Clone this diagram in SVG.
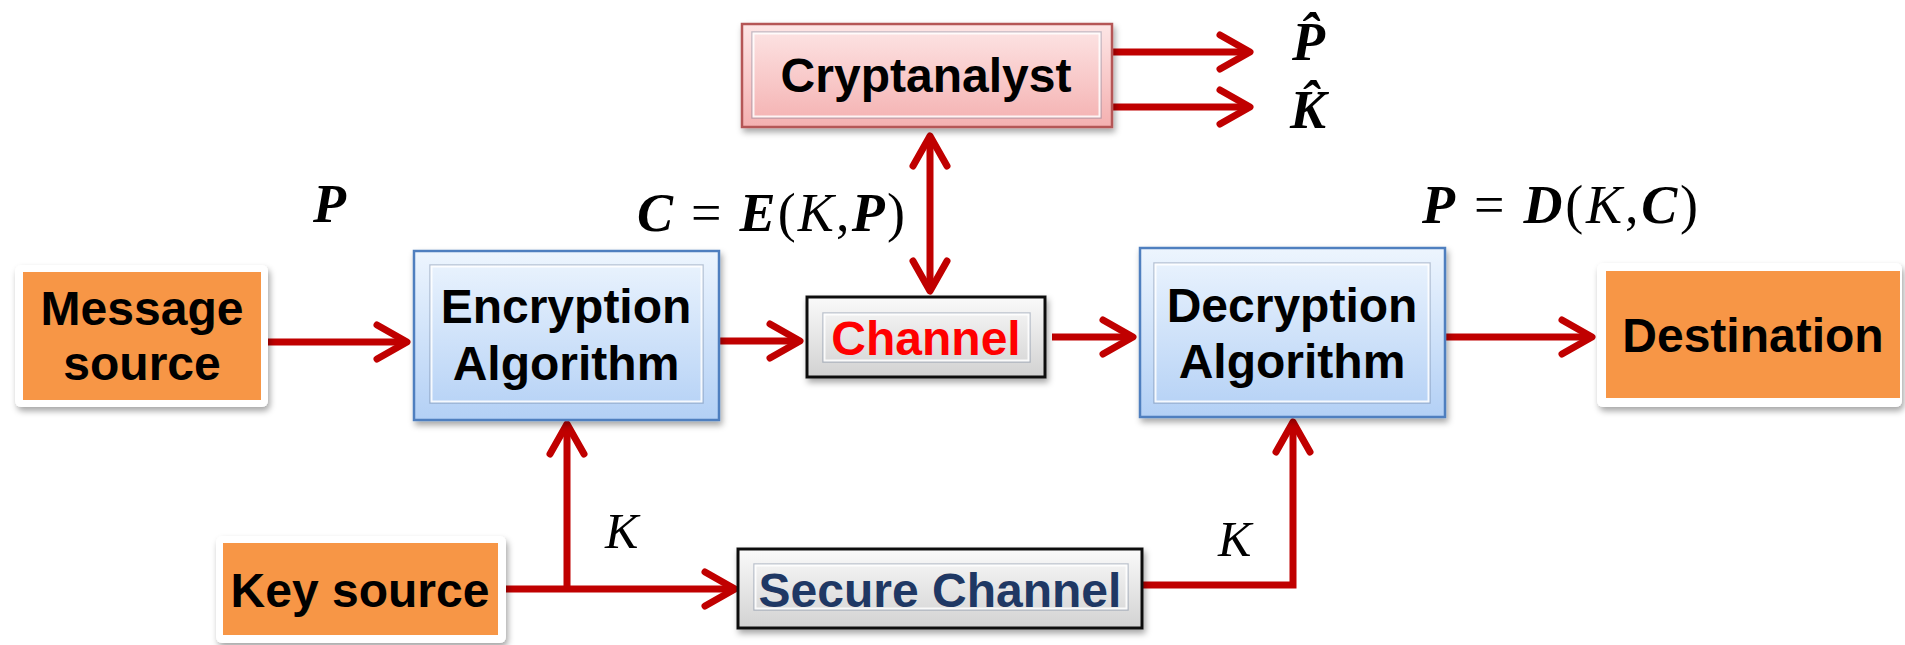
<svg xmlns="http://www.w3.org/2000/svg" width="1905" height="645" viewBox="0 0 1905 645">
<defs>
  <linearGradient id="gBlue" x1="0" y1="0" x2="0" y2="1">
    <stop offset="0" stop-color="#EDF5FE"/>
    <stop offset="1" stop-color="#B3D0F5"/>
  </linearGradient>
  <linearGradient id="gPink" x1="0" y1="0" x2="0" y2="1">
    <stop offset="0" stop-color="#FDE6E6"/>
    <stop offset="1" stop-color="#F4B0B0"/>
  </linearGradient>
  <linearGradient id="gGray" x1="0" y1="0" x2="0" y2="1">
    <stop offset="0" stop-color="#FAFAFA"/>
    <stop offset="1" stop-color="#D2D2D2"/>
  </linearGradient>
  <filter id="shadow" x="-10%" y="-10%" width="125%" height="135%">
    <feDropShadow dx="2" dy="4" stdDeviation="3" flood-color="#000" flood-opacity="0.35"/>
  </filter>
  <marker id="head" markerUnits="userSpaceOnUse" viewBox="-36 -22 40 44" markerWidth="40" markerHeight="44" refX="0" refY="0" orient="auto-start-reverse">
    <path d="M-30,-17 L0,0 L-30,17" fill="none" stroke="#C00000" stroke-width="7" stroke-linecap="round" stroke-linejoin="round"/>
  </marker>
  <style>
    .lbl { font-family: "Liberation Sans", Arial, sans-serif; font-weight: bold; font-size: 48px; text-anchor: middle; fill: #000; }
    .math { font-family: "Liberation Serif", "Times New Roman", serif; font-size: 54px; fill: #000; }
    .bi { font-weight: bold; font-style: italic; }
    .it { font-style: italic; }
    .frame { fill: #FFFFFF; filter: url(#shadow); }
    .orange { fill: #F79646; }
    .blue { fill: url(#gBlue); stroke: #4F7FBF; stroke-width: 2.5; filter: url(#shadow); }
    .pink { fill: url(#gPink); stroke: #B55656; stroke-width: 2.5; filter: url(#shadow); }
    .gray { fill: url(#gGray); stroke: #111; stroke-width: 3; filter: url(#shadow); }
    .bevel { fill: none; stroke: rgba(255,255,255,0.85); stroke-width: 2; }
    .bevel2 { fill: none; stroke: rgba(90,110,140,0.35); stroke-width: 1.5; }
    .conn { fill: none; stroke: #C00000; stroke-width: 7; }
  </style>
</defs>
<rect width="1905" height="645" fill="#FFFFFF"/>

<g id="connectors">
  <path class="conn" d="M268,342 L407,342" marker-end="url(#head)"/>
  <path class="conn" d="M719,341 L800,341" marker-end="url(#head)"/>
  <path class="conn" d="M1052,337 L1133,337" marker-end="url(#head)"/>
  <path class="conn" d="M1445,337 L1592,337" marker-end="url(#head)"/>
  <path class="conn" d="M930,136 L930,291" marker-start="url(#head)" marker-end="url(#head)"/>
  <path class="conn" d="M1112,52 L1250,52" marker-end="url(#head)"/>
  <path class="conn" d="M1112,107 L1250,107" marker-end="url(#head)"/>
  <path class="conn" d="M498,589 L735,589" marker-end="url(#head)"/>
  <path class="conn" d="M567,592 L567,424" marker-end="url(#head)"/>
  <path class="conn" d="M1142,585 L1293,585 L1293,422" stroke-linejoin="miter" marker-end="url(#head)"/>
</g>

<g id="message-source">
  <rect class="frame" x="15" y="265" width="253" height="142" rx="6"/>
  <rect class="orange" x="23" y="272" width="238" height="128"/>
  <text class="lbl" x="142" y="325">Message</text>
  <text class="lbl" x="142" y="380">source</text>
</g>

<g id="encryption">
  <rect class="blue" x="414" y="251" width="305" height="169"/>
  <rect class="bevel2" x="430" y="265" width="273" height="138"/>
  <rect class="bevel" x="431.5" y="266.5" width="270" height="135"/>
  <text class="lbl" x="566" y="323">Encryption</text>
  <text class="lbl" x="566" y="380">Algorithm</text>
</g>

<g id="channel">
  <rect class="gray" x="807" y="297" width="238" height="80"/>
  <rect class="bevel2" x="823" y="313" width="207" height="49"/>
  <rect class="bevel" x="824.5" y="314.5" width="204" height="46"/>
  <text class="lbl" x="926" y="355" style="fill:#FF0000">Channel</text>
</g>

<g id="cryptanalyst">
  <rect class="pink" x="742" y="24" width="370" height="103"/>
  <rect class="bevel2" x="752" y="32" width="349" height="86"/>
  <rect class="bevel" x="753.5" y="33.5" width="346" height="83"/>
  <text class="lbl" x="926" y="92">Cryptanalyst</text>
</g>

<g id="decryption">
  <rect class="blue" x="1140" y="248" width="305" height="169"/>
  <rect class="bevel2" x="1154" y="263" width="276" height="140"/>
  <rect class="bevel" x="1155.5" y="264.5" width="273" height="137"/>
  <text class="lbl" x="1292" y="322">Decryption</text>
  <text class="lbl" x="1292" y="378">Algorithm</text>
</g>

<g id="destination">
  <rect class="frame" x="1597" y="263" width="305" height="144" rx="6"/>
  <rect class="orange" x="1606" y="271" width="294" height="127"/>
  <text class="lbl" x="1753" y="352">Destination</text>
</g>

<g id="key-source">
  <rect class="frame" x="216" y="536" width="290" height="107" rx="6"/>
  <rect class="orange" x="223" y="543" width="275" height="92"/>
  <text class="lbl" x="360" y="607">Key source</text>
</g>

<g id="secure-channel">
  <rect class="gray" x="738" y="549" width="404" height="79"/>
  <rect class="bevel2" x="754" y="564" width="374" height="46"/>
  <rect class="bevel" x="755.5" y="565.5" width="371" height="43"/>
  <text class="lbl" x="940" y="607" style="fill:#1F3864">Secure Channel</text>
</g>

<g id="labels">
  <text class="math bi" x="313" y="222">P</text>
  <text class="math" x="637" y="231" textLength="268" lengthAdjust="spacing"><tspan class="bi">C</tspan> = <tspan class="bi">E</tspan>(<tspan class="it">K</tspan>,<tspan class="bi">P</tspan>)</text>
  <text class="math" x="1422" y="223" textLength="276" lengthAdjust="spacing"><tspan class="bi">P</tspan> = <tspan class="bi">D</tspan>(<tspan class="it">K</tspan>,<tspan class="bi">C</tspan>)</text>
  <text class="math bi" x="1292" y="60">P̂</text>
  <text class="math bi" x="1290" y="128">K̂</text>
  <text class="math it" x="605" y="548" style="font-size:50px">K</text>
  <text class="math it" x="1218" y="556" style="font-size:50px">K</text>
</g>
</svg>
